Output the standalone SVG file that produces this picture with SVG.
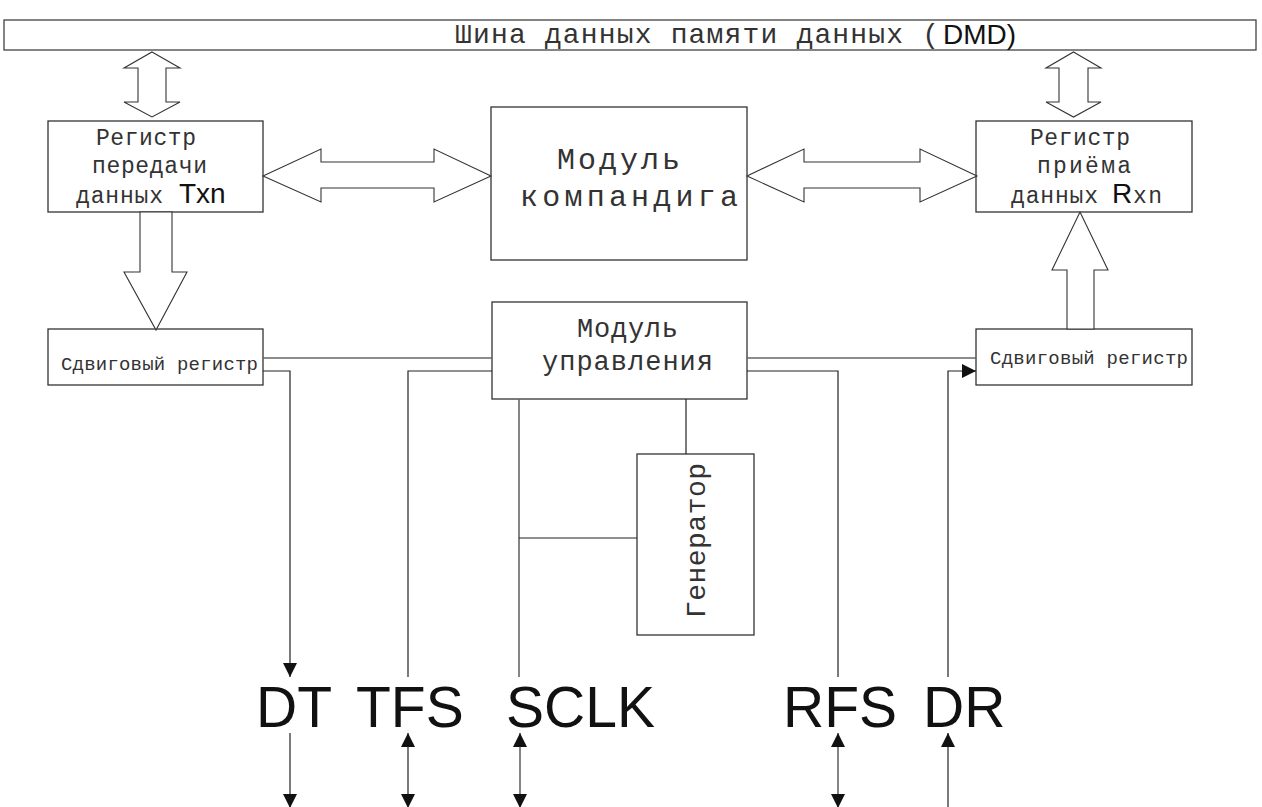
<svg xmlns="http://www.w3.org/2000/svg" width="1262" height="807" viewBox="0 0 1262 807">
  <style>
    .box { fill: #fff; stroke: #333; stroke-width: 1.3; }
    .bus { fill: #fff; stroke: #333; stroke-width: 1.2; }
    .big { fill: #fff; stroke: #333; stroke-width: 1.1; stroke-linejoin: miter; }
    .wire { fill: none; stroke: #222; stroke-width: 1.2; }
    .wire-g { fill: none; stroke: #666; stroke-width: 1.6; }
    .mono { font-family: "Liberation Mono", "DejaVu Sans Mono", monospace; fill: #333; }
    .sans { font-family: "Liberation Sans", Arial, sans-serif; fill: #111; }
    .pin { font-family: "Liberation Sans", Arial, sans-serif; font-size: 57px; fill: #111; }
  </style>
  <defs>
    <marker id="arr" viewBox="0 0 10 10" refX="10" refY="5" markerUnits="userSpaceOnUse" markerWidth="16" markerHeight="14" orient="auto-start-reverse">
      <path d="M0,0 L10,5 L0,10 z" fill="#111"/>
    </marker>
  </defs>

  <!-- data memory data bus -->
  <g id="bus-dmd">
    <rect class="bus" x="4" y="20" width="1252" height="30"/>
    <text class="mono" x="455" y="43" font-size="28" textLength="484" lengthAdjust="spacing">Шина данных памяти данных (</text>
    <text class="sans" x="943" y="44" font-size="28">DMD)</text>
  </g>

  <!-- transmit data register -->
  <g id="reg-tx">
    <rect class="box" x="48" y="121" width="215" height="91"/>
    <text class="mono" x="96" y="145" font-size="23" textLength="100" lengthAdjust="spacing">Регистр</text>
    <text class="mono" x="92" y="173" font-size="23" textLength="115" lengthAdjust="spacing">передачи</text>
    <text class="mono" x="76" y="203" font-size="23" textLength="87" lengthAdjust="spacing">данных</text>
    <text class="sans" x="179" y="203" font-size="28">Txn</text>
  </g>

  <!-- companding module -->
  <g id="compander">
    <rect class="box" x="491" y="107" width="256" height="153"/>
    <text class="mono" x="557" y="169" font-size="30" textLength="123" lengthAdjust="spacing">Модуль</text>
    <text class="mono" x="520" y="206" font-size="30" textLength="218" lengthAdjust="spacing">компандига</text>
  </g>

  <!-- receive data register -->
  <g id="reg-rx">
    <rect class="box" x="976" y="121" width="216" height="91"/>
    <text class="mono" x="1030" y="145" font-size="23" textLength="100" lengthAdjust="spacing">Регистр</text>
    <text class="mono" x="1037" y="173" font-size="23" textLength="94" lengthAdjust="spacing">приёма</text>
    <text class="mono" x="1011" y="203" font-size="23" textLength="87" lengthAdjust="spacing">данных</text>
    <text class="sans" x="1112" y="203" font-size="28">R</text>
    <text class="mono" x="1133" y="203" font-size="23" textLength="29" lengthAdjust="spacing">xn</text>
  </g>

  <!-- transmit shift register -->
  <g id="shift-tx">
    <rect class="box" x="48" y="329" width="215" height="56"/>
    <text class="mono" x="61" y="370" font-size="19" textLength="197" lengthAdjust="spacing">Сдвиговый регистр</text>
  </g>

  <!-- receive shift register -->
  <g id="shift-rx">
    <rect class="box" x="976" y="329" width="216" height="56"/>
    <text class="mono" x="990" y="364" font-size="19" textLength="198" lengthAdjust="spacing">Сдвиговый регистр</text>
  </g>

  <!-- control module -->
  <g id="control">
    <rect class="box" x="492" y="302" width="255" height="97"/>
    <text class="mono" x="577" y="337" font-size="27" textLength="101" lengthAdjust="spacing">Модуль</text>
    <text class="mono" x="542" y="370" font-size="27" textLength="171" lengthAdjust="spacing">управления</text>
  </g>

  <!-- clock generator -->
  <g id="generator">
    <rect class="box" x="637" y="454" width="117" height="181"/>
    <text class="mono" transform="translate(705,618) rotate(-90)" font-size="28" textLength="155" lengthAdjust="spacing">Генератор</text>
  </g>

  <!-- pin labels -->
  <g id="pin-dt"><text class="pin" x="256" y="727">DT</text></g>
  <g id="pin-tfs"><text class="pin" x="356" y="727">TFS</text></g>
  <g id="pin-sclk"><text class="pin" x="506" y="727">SCLK</text></g>
  <g id="pin-rfs"><text class="pin" x="783" y="727">RFS</text></g>
  <g id="pin-dr"><text class="pin" x="923" y="727">DR</text></g>

  <g id="connectors">
    <!-- wide bus arrows -->
    <polygon class="big" points="152,52 180,68 166,68 166,102 180,102 152,117 124,102 138,102 138,68 124,68"/>
    <polygon class="big" points="1073.5,52 1101,68 1088,68 1088,102 1101,102 1073.5,117 1046,102 1059,102 1059,68 1046,68"/>
    <polygon class="big" points="263,176 321,149 321,162 434,162 434,149 491,176 434,202 434,188 321,188 321,202"/>
    <polygon class="big" points="747,176 804,149 804,162 920,162 920,149 977,176 920,202 920,188 804,188 804,202"/>
    <polygon class="big" points="140,212 172,212 172,272 187,272 156,330 124,272 140,272"/>
    <polygon class="big" points="1080,212 1108,270 1094,270 1094,329 1067,329 1067,270 1052,270"/>

    <!-- control lines between shift registers and control module -->
    <line class="wire-g" x1="263" y1="358" x2="492" y2="358"/>
    <line class="wire-g" x1="747" y1="358" x2="976" y2="358"/>

    <!-- serial pins -->
    <path class="wire" d="M263,371 H290 V677" marker-end="url(#arr)"/>
    <path class="wire" d="M492,371 H408 V677"/>
    <path class="wire-g" d="M519,399 V677"/>
    <path class="wire" d="M747,371 H838 V677"/>
    <path class="wire" d="M948,677 V371 H976" marker-end="url(#arr)"/>

    <!-- control module to generator -->
    <line class="wire" x1="686" y1="399" x2="686" y2="454"/>
    <line class="wire" x1="519" y1="538" x2="637" y2="538"/>

    <!-- external pin arrows -->
    <line class="wire" x1="290" y1="733" x2="290" y2="808" marker-end="url(#arr)"/>
    <line class="wire" x1="408" y1="733" x2="408" y2="808" marker-start="url(#arr)" marker-end="url(#arr)"/>
    <line class="wire-g" x1="520" y1="733" x2="520" y2="808" marker-start="url(#arr)" marker-end="url(#arr)"/>
    <line class="wire-g" x1="838" y1="733" x2="838" y2="808" marker-start="url(#arr)" marker-end="url(#arr)"/>
    <line class="wire" x1="948" y1="808" x2="948" y2="733" marker-end="url(#arr)"/>
  </g>
</svg>
